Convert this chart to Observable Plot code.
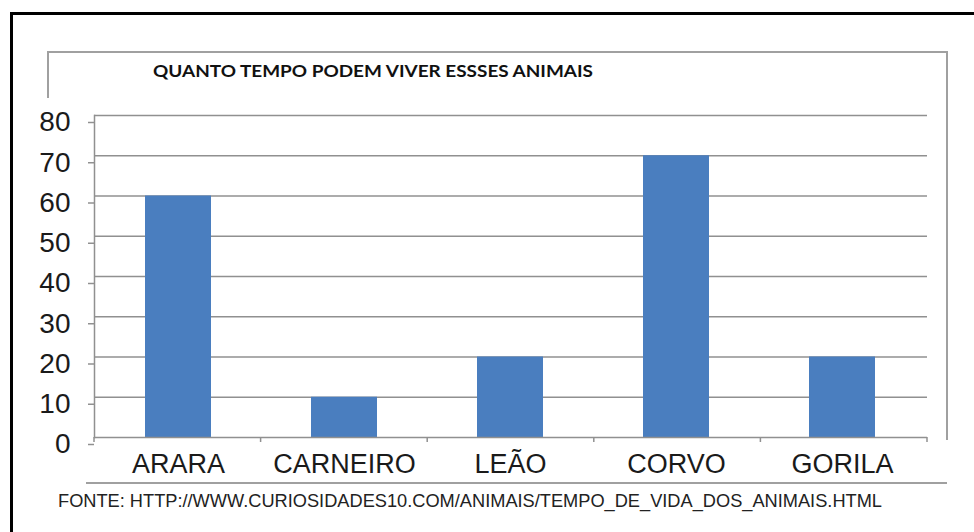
<!DOCTYPE html>
<html>
<head>
<meta charset="utf-8">
<script src="https://cdn.jsdelivr.net/npm/d3@7"></script>
<script src="https://cdn.jsdelivr.net/npm/@observablehq/plot@0.6"></script>
<style>
  html, body { margin: 0; padding: 0; background: #fff; }
  #chart { width: 974px; height: 532px; position: relative; }
</style>
</head>
<body>
<div id="chart"></div>
<script>
const categories = ["ARARA", "CARNEIRO", "LEÃO", "CORVO", "GORILA"];
const values = [60, 10, 20, 70, 20];
const yTicks = [0, 10, 20, 30, 40, 50, 60, 70, 80];
const titleText = "QUANTO TEMPO PODEM VIVER ESSSES ANIMAIS";
const sourceText = "FONTE: HTTP://WWW.CURIOSIDADES10.COM/ANIMAIS/TEMPO_DE_VIDA_DOS_ANIMAIS.HTML";

const data = categories.map((c, i) => ({animal: c, years: values[i]}));
const gridColor = "#909090";

const plot = Plot.plot({
  width: 974,
  height: 532,
  marginLeft: 94,
  marginRight: 47,
  marginTop: 115,
  marginBottom: 95,
  style: {fontFamily: "'Liberation Sans', Arial, sans-serif", background: "transparent", color: "#1a1a1a"},
  x: {domain: categories, paddingInner: 0.6, paddingOuter: 0.3, label: null},
  y: {domain: [0, 80], label: null},
  marks: [
    Plot.gridY(yTicks.slice(1), {stroke: gridColor, strokeOpacity: 1, strokeWidth: 1.5}),
    Plot.barY(data, {x: "animal", y: "years", fill: "#4a7ebf"}),
    Plot.ruleY([0], {stroke: gridColor, strokeWidth: 1.5}),
    Plot.frame({anchor: "left", stroke: gridColor, strokeWidth: 1.5}),
    Plot.axisY(yTicks, {tickSize: 6, tickPadding: 18, fontSize: 28, dy: 7, stroke: gridColor, strokeWidth: 1.5, label: null}),
    Plot.axisX({tickSize: 0, tickPadding: 16, fontSize: 27, label: null})
  ]
});

document.getElementById("chart").appendChild(plot);

const svg = d3.select(plot);
const xs = plot.scale("x");
// category boundary ticks on the x axis
const step = (xs.range[1] - xs.range[0]) / categories.length;
const bounds = d3.range(categories.length + 1).map(i => xs.range[0] + i * step);
svg.append("g").selectAll("line").data(bounds).join("line")
  .attr("x1", d => d).attr("x2", d => d)
  .attr("y1", 437).attr("y2", 442)
  .attr("stroke", gridColor).attr("stroke-width", 1.5);

// chart-area border (partial, grey)
svg.append("path")
  .attr("d", "M48,98V52H947V440")
  .attr("fill", "none").attr("stroke", "#a0a0a0").attr("stroke-width", 2);
svg.append("path")
  .attr("d", "M86,483H947")
  .attr("fill", "none").attr("stroke", "#a0a0a0").attr("stroke-width", 2);

// outer black border (left + top)
svg.append("path")
  .attr("d", "M11.5,532V13.5H974")
  .attr("fill", "none").attr("stroke", "#000").attr("stroke-width", 3);

// title
svg.append("text")
  .attr("x", 153).attr("y", 77)
  .attr("text-anchor", "start")
  .attr("font-family", "Lato, 'Open Sans', sans-serif")
  .attr("font-weight", 700)
  .attr("font-size", 17)
  .attr("fill", "#111")
  .attr("textLength", 440)
  .attr("lengthAdjust", "spacingAndGlyphs")
  .text(titleText);

// source
svg.append("text")
  .attr("x", 58).attr("y", 507)
  .attr("text-anchor", "start")
  .attr("font-family", "'Liberation Sans', Arial, sans-serif")
  .attr("font-size", 17.5)
  .attr("fill", "#222")
  .attr("textLength", 824)
  .attr("lengthAdjust", "spacingAndGlyphs")
  .text(sourceText);
</script>
</body>
</html>
